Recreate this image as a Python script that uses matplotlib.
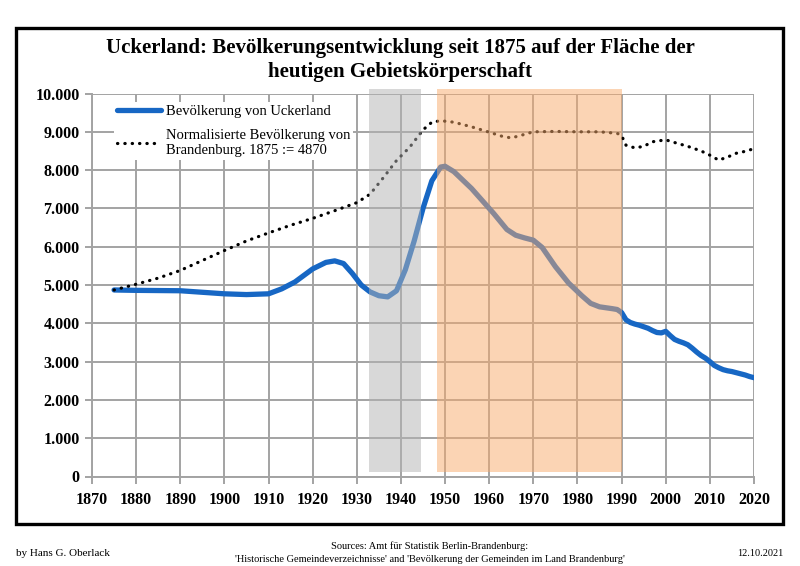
import matplotlib
matplotlib.use("Agg")
import matplotlib.pyplot as plt
from matplotlib.patches import Rectangle
from matplotlib.ticker import FuncFormatter, MultipleLocator

# ---------------- data ----------------
years_uck = [1875, 1880, 1885, 1890, 1895, 1900, 1905, 1910, 1913, 1916, 1920, 1923,
             1925, 1927, 1929, 1931, 1933, 1935, 1937, 1939, 1941, 1943, 1945, 1947,
             1949, 1950, 1952, 1956, 1961, 1964, 1966, 1968, 1970, 1972, 1975, 1978,
             1981, 1983, 1985, 1988, 1989, 1990, 1991, 1992, 1993, 1994, 1995, 1996,
             1997, 1998, 1999, 2000, 2001, 2002, 2003, 2004, 2005, 2006, 2007, 2008,
             2009, 2010, 2011, 2012, 2013, 2014, 2015, 2016, 2017, 2018, 2019, 2020]
pop_uck = [4870, 4860, 4855, 4850, 4810, 4770, 4750, 4770, 4900, 5080, 5420, 5590,
           5630, 5560, 5300, 5000, 4820, 4720, 4690, 4850, 5400, 6150, 7000, 7720,
           8080, 8100, 7960, 7520, 6870, 6450, 6300, 6230, 6170, 5980, 5480, 5050,
           4720, 4520, 4430, 4380, 4360, 4280, 4090, 4020, 3980, 3950, 3910, 3870,
           3810, 3760, 3750, 3790, 3680, 3580, 3530, 3490, 3440, 3350, 3250, 3160,
           3090, 3000, 2900, 2840, 2790, 2760, 2740, 2710, 2680, 2650, 2610, 2580]

years_bb = [1875, 1880, 1885, 1890, 1895, 1900, 1905, 1910, 1915, 1920, 1925, 1930,
            1933, 1936, 1939, 1942, 1945, 1947, 1949, 1952, 1956, 1960, 1963, 1965,
            1967, 1970, 1975, 1980, 1985, 1989, 1990, 1991, 1993, 1995, 1997, 2000,
            2002, 2005, 2008, 2010, 2012, 2014, 2016, 2018, 2020]
pop_bb = [4870, 5020, 5180, 5380, 5640, 5900, 6150, 6360, 6560, 6740, 6940, 7150,
          7370, 7800, 8250, 8600, 9050, 9250, 9290, 9250, 9130, 8990, 8880, 8840,
          8900, 9000, 9010, 9000, 9000, 8960, 8900, 8650, 8580, 8620, 8740, 8790,
          8720, 8620, 8500, 8390, 8260, 8340, 8440, 8490, 8560]

label_uck = "Bevölkerung von Uckerland"
label_bb = "Normalisierte Bevölkerung von\nBrandenburg. 1875 := 4870"
title = "Uckerland: Bevölkerungsentwicklung seit 1875 auf der Fläche der\nheutigen Gebietskörperschaft"
x_ticks = list(range(1870, 2021, 10))
nazi_period = (1932.7, 1944.6)
gdr_period = (1948.1, 1990.0)

# ---------------- figure ----------------
SERIF = ["Liberation Serif", "DejaVu Serif"]
plt.rcParams["font.family"] = SERIF

fig = plt.figure(figsize=(8.0, 5.66), dpi=100)
fig.patch.set_facecolor("white")
ax = fig.add_axes([92 / 800, 1 - 476.5 / 566, (754 - 92) / 800, (476.5 - 93.5) / 566])

grid_c = "#a3a3a3"
ax.set_xlim(1870, 2020)
ax.set_ylim(0, 10000)
ax.set_xticks(x_ticks)
ax.yaxis.set_major_locator(MultipleLocator(1000))
ax.yaxis.set_major_formatter(FuncFormatter(lambda v, p: f"{int(v):,}".replace(",", ".")))
ax.grid(True, color=grid_c, linewidth=1.4, zorder=0)
ax.set_axisbelow(True)
for s in ["top", "right"]:
    ax.spines[s].set_visible(False)
for s in ["left", "bottom"]:
    ax.spines[s].set_color(grid_c)
    ax.spines[s].set_linewidth(1.4)
ax.tick_params(axis="both", direction="out", length=5, width=1.4, color=grid_c,
               labelsize=11.5, pad=4)
for lab in ax.get_xticklabels() + ax.get_yticklabels():
    lab.set_fontweight("bold")
ax.tick_params(axis="x", pad=6)

l1, = ax.plot(years_uck, pop_uck, color="#1767c4", lw=3.8, solid_capstyle="round",
              solid_joinstyle="round", zorder=3, label=label_uck)
l2, = ax.plot(years_bb, pop_bb, color="black", lw=2.3, linestyle=(0, (0.1, 2.2)),
              dash_capstyle="round", zorder=3, label=label_bb)

# shaded periods drawn over the lines (semi-transparent)
ax.add_patch(Rectangle((nazi_period[0], 120), nazi_period[1] - nazi_period[0], 10000,
                       facecolor="#b3b3b3", alpha=0.5, edgecolor="none", zorder=4,
                       clip_on=False))
ax.add_patch(Rectangle((gdr_period[0], 120), gdr_period[1] - gdr_period[0], 10000,
                       facecolor="#f9aa6a", alpha=0.5, edgecolor="none", zorder=4,
                       clip_on=False))

leg = ax.legend(handles=[l1, l2], loc="upper left", bbox_to_anchor=(0.022, 0.998),
                frameon=True, framealpha=1, facecolor="white", edgecolor="none",
                fancybox=False, fontsize=10.5, handlelength=3.0, handletextpad=0.35,
                labelspacing=0.8, borderpad=0.2)
leg.set_zorder(5)

# title
fig.text(0.5, 1 - 60 / 566, title, ha="center", va="center", fontsize=15,
         fontweight="bold", linespacing=1.25)

# outer frame
fig.patches.append(Rectangle((16 / 800, 1 - 524 / 566), (783 - 16) / 800, (524 - 28) / 566,
                             transform=fig.transFigure, fill=False, edgecolor="black",
                             linewidth=2.4, zorder=10))

# footer
fig.text(16 / 800, 1 - 553 / 566, "by Hans G. Oberlack", ha="left", va="center", fontsize=8)
fig.text(430 / 800, 1 - 546 / 566, "Sources: Amt für Statistik Berlin-Brandenburg:",
         ha="center", va="center", fontsize=7.5)
fig.text(430 / 800, 1 - 560 / 566,
         "'Historische Gemeindeverzeichnisse' and 'Bevölkerung der Gemeinden im Land Brandenburg'",
         ha="center", va="center", fontsize=7.5)
fig.text(783 / 800, 1 - 553 / 566, "12.10.2021", ha="right", va="center", fontsize=7.5)

fig.savefig("out.png", dpi=100, facecolor="white")
